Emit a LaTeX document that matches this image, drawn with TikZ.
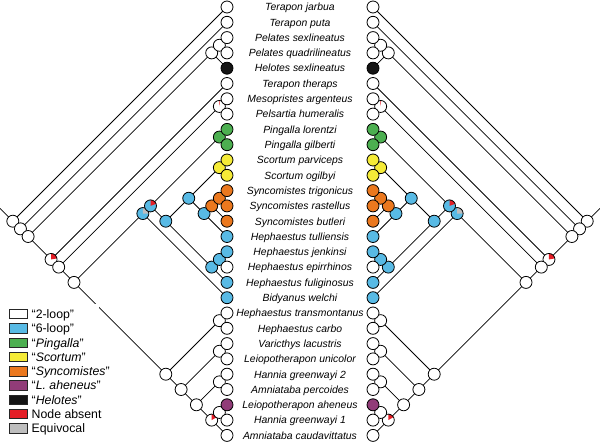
\documentclass[tikz,border=0pt]{standalone}
\usepackage{fontspec}
\setmainfont{Liberation Sans}
\usetikzlibrary{backgrounds}
\definecolor{csix}{RGB}{88,186,229}
\definecolor{cgreen}{RGB}{76,175,80}
\definecolor{cyellow}{RGB}{245,235,55}
\definecolor{corange}{RGB}{235,120,30}
\definecolor{cpurple}{RGB}{145,60,120}
\definecolor{cblack}{RGB}{20,20,20}
\definecolor{cred}{RGB}{228,30,38}
\definecolor{cgray}{RGB}{190,190,190}
\tikzset{
 nd/.style={circle, draw=black, line width=0.8pt, minimum size=12pt, inner sep=0pt, fill=white},
 wedge/.style n args={3}{path picture={\fill[#1] (path picture bounding box.center) -- +(#2:8pt) arc[start angle=#2, end angle=#3, radius=8pt] -- cycle;}},
 br/.style={line width=0.75pt},
 taxon/.style={font=\fontsize{10.4}{12}\selectfont\itshape, anchor=base, inner sep=0pt},
 legbox/.style={draw=black!85, line width=0.7pt, minimum width=18pt, minimum height=9.4pt, inner sep=0pt},
 legtext/.style={font=\fontsize{12.3}{14}\selectfont, anchor=base west, inner sep=0pt},
}
\newcommand{\tnode}[3]{%
 \node[nd,#3] (L#1-#2) at ({227-7.65*(#2-#1)},{7+7.65*(#1+#2)}) {};
 \node[nd,#3] (R#1-#2) at ({373+7.65*(#2-#1)},{7+7.65*(#1+#2)}) {};}
\newcommand{\lnk}[2]{\draw[br] (L#1.center) -- (L#2.center); \draw[br] (R#1.center) -- (R#2.center);}
\begin{document}
\begin{tikzpicture}[x=1pt,y=-1pt]
\useasboundingbox (0,0) rectangle (600,444);
% internal nodes, root first
\tnode{0}{28}{}
\tnode{1}{28}{}
\tnode{2}{28}{}
\tnode{2}{4}{}
\tnode{2}{3}{}
\tnode{5}{28}{wedge={cred}{10}{90}}
\tnode{6}{28}{}
\tnode{6}{7}{wedge={cred}{86}{94}}
\tnode{8}{28}{}
\tnode{8}{19}{fill=csix, wedge={cgray}{0}{90}}
\tnode{8}{18}{fill=csix, wedge={cred}{20}{90}}
\tnode{8}{9}{fill=cgreen}
\tnode{10}{18}{fill=csix}
\tnode{10}{15}{fill=csix}
\tnode{10}{11}{fill=cyellow}
\tnode{12}{15}{fill=csix}
\tnode{12}{14}{fill=corange}
\tnode{12}{13}{fill=corange}
\tnode{16}{18}{fill=csix}
\tnode{16}{17}{fill=csix}
\tnode{20}{28}{}
\tnode{20}{21}{}
\tnode{22}{28}{}
\tnode{22}{23}{}
\tnode{24}{28}{}
\tnode{24}{25}{}
\tnode{26}{28}{wedge={cred}{30}{90}}
\tnode{26}{27}{}
% leaves
\foreach \i/\c in {0/white,1/white,2/white,3/white,4/cblack,5/white,6/white,7/white,8/cgreen,9/cgreen,10/cyellow,11/cyellow,12/corange,13/corange,14/corange,15/csix,16/csix,17/white,18/csix,19/csix,20/white,21/white,22/white,23/white,24/white,25/white,26/cpurple,27/white,28/white}{
 \tnode{\i}{\i}{fill=\c}
}
\coordinate (LE) at (0,208.4);
\coordinate (RE) at (600,208.4);
\begin{scope}[on background layer]
 \draw[br] (L0-28.center) -- (LE);
 \draw[br] (R0-28.center) -- (RE);
 \lnk{0-28}{0-0} \lnk{0-28}{1-28}
 \lnk{1-28}{1-1} \lnk{1-28}{2-28}
 \lnk{2-28}{2-4} \lnk{2-28}{5-28}
 \lnk{2-4}{2-3} \lnk{2-4}{4-4}
 \lnk{2-3}{2-2} \lnk{2-3}{3-3}
 \lnk{5-28}{5-5} \lnk{5-28}{6-28}
 \lnk{6-28}{6-7} \lnk{6-28}{8-28}
 \lnk{6-7}{6-6} \lnk{6-7}{7-7}
 \lnk{8-28}{8-19} \lnk{8-28}{20-28}
 \lnk{8-19}{8-18} \lnk{8-19}{19-19}
 \lnk{8-18}{8-9} \lnk{8-18}{10-18}
 \lnk{8-9}{8-8} \lnk{8-9}{9-9}
 \lnk{10-18}{10-15} \lnk{10-18}{16-18}
 \lnk{10-15}{10-11} \lnk{10-15}{12-15}
 \lnk{10-11}{10-10} \lnk{10-11}{11-11}
 \lnk{12-15}{12-14} \lnk{12-15}{15-15}
 \lnk{12-14}{12-13} \lnk{12-14}{14-14}
 \lnk{12-13}{12-12} \lnk{12-13}{13-13}
 \lnk{16-18}{16-17} \lnk{16-18}{18-18}
 \lnk{16-17}{16-16} \lnk{16-17}{17-17}
 \lnk{20-28}{20-21} \lnk{20-28}{22-28}
 \lnk{20-21}{20-20} \lnk{20-21}{21-21}
 \lnk{22-28}{22-23} \lnk{22-28}{24-28}
 \lnk{22-23}{22-22} \lnk{22-23}{23-23}
 \lnk{24-28}{24-25} \lnk{24-28}{26-28}
 \lnk{24-25}{24-24} \lnk{24-25}{25-25}
 \lnk{26-28}{26-27} \lnk{26-28}{28-28}
 \lnk{26-27}{26-26} \lnk{26-27}{27-27}
\end{scope}
% taxon labels
\foreach \i/\t in {0/Terapon jarbua,1/Terapon puta,2/Pelates sexlineatus,3/Pelates quadrilineatus,4/Helotes sexlineatus,5/Terapon theraps,6/Mesopristes argenteus,7/Pelsartia humeralis,8/Pingalla lorentzi,9/Pingalla gilberti,10/Scortum parviceps,11/Scortum ogilbyi,12/Syncomistes trigonicus,13/Syncomistes rastellus,14/Syncomistes butleri,15/Hephaestus tulliensis,16/Hephaestus jenkinsi,17/Hephaestus epirrhinos,18/Hephaestus fuliginosus,19/Bidyanus welchi,20/Hephaestus transmontanus,21/Hephaestus carbo,22/Varicthys lacustris,23/Leiopotherapon unicolor,24/Hannia greenwayi 2,25/Amniataba percoides,26/Leiopotherapon aheneus,27/Hannia greenwayi 1,28/Amniataba caudavittatus}{
 \node[taxon] (T\i) at (300,{7+15.3*\i+3.8}) {\t};
}
% legend
\fill[white] (0,304) rectangle (99,444);
\foreach \k/\c/\t in {0/white/{“2-loop”},1/csix/{“6-loop”},2/cgreen/{“\textit{Pingalla}”},3/cyellow/{“\textit{Scortum}”},4/corange/{“\textit{Syncomistes}”},5/cpurple/{“\textit{L. aheneus}”},6/cblack/{“\textit{Helotes}”},7/cred/{Node absent},8/cgray/{Equivocal}}{
 \node[legbox, fill=\c] (B\k) at (18.3,{314+14.3*\k}) {};
 \node[legtext] (G\k) at (31.5,{314+14.3*\k+4.4}) {\t};
}
\end{tikzpicture}
\end{document}
